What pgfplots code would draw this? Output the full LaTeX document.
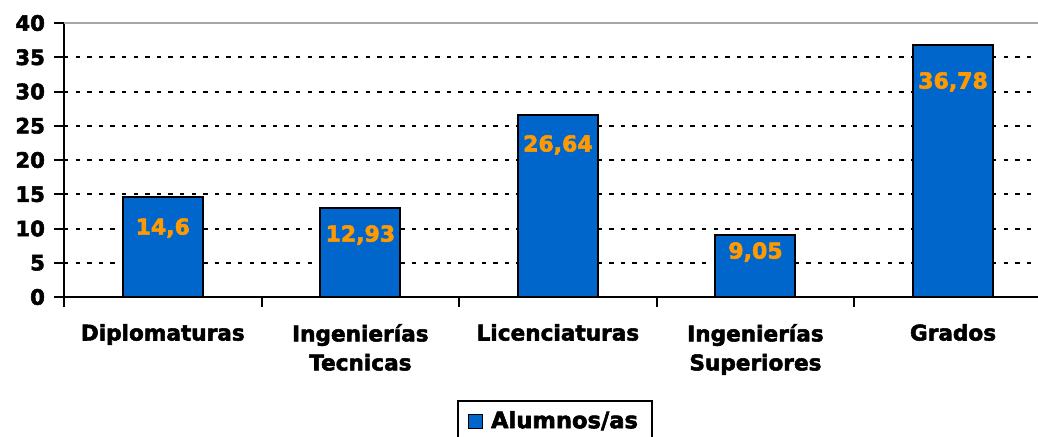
\documentclass[border=0pt]{standalone}
\usepackage{fontspec}
\setmainfont{DejaVu Sans}[BoldFeatures={FakeBold=2.5}]
\usepackage{pgfplots}
\pgfplotsset{compat=1.18}
\definecolor{barblue}{HTML}{0066CC}
\definecolor{lblorange}{HTML}{FF9900}
\begin{document}
\begin{tikzpicture}[font=\fontsize{10.6}{12.5}\selectfont\bfseries]
\begin{axis}[
  scale only axis,
  width=487pt, height=137pt,
  xmin=-0.5, xmax=4.43,
  ymin=0, ymax=40,
  ytick={0,5,...,40},
  axis x line*=bottom, axis y line*=left,
  axis line style={-, black, line width=1pt},
  tick align=outside,
  major tick length=5pt,
  tick style={black, line width=1pt},
  xtick={-0.5,0.5,1.5,2.5,3.5},
  xticklabels={},
  extra x ticks={0,1,2,3,4},
  extra x tick labels={Diplomaturas, {Ingenierías\\Tecnicas}, Licenciaturas, {Ingenierías\\Superiores}, Grados},
  extra x tick style={major tick length=0pt, tick style={draw=none}, grid=none,
    xticklabel style={align=center, anchor=north, yshift=-10pt, font=\fontsize{10.8}{14.5}\selectfont\bfseries}},
  ymajorgrids,
  major grid style={black, line width=1pt, dash pattern=on 2.2pt off 3.6pt},
  /pgf/number format/assume math mode=true,
  yticklabel style={font=\fontsize{10.6}{12.5}\selectfont\bfseries, xshift=-1pt},
  legend style={at={(0.504,-0.376)}, anchor=north, draw=black, line width=1pt,
    font=\fontsize{11.3}{13}\selectfont\bfseries, inner xsep=5pt, inner ysep=3pt, row sep=2pt},
  legend image code/.code={\draw[fill=barblue, draw=black, line width=0.6pt] (0pt,-3.5pt) rectangle (7pt,3.5pt);},
  legend cell align=left,
  clip=false,
]
\draw[gray!70, line width=1pt] (rel axis cs:0,1) -- (rel axis cs:1,1);
\addplot[ybar, bar width=40pt, fill=barblue, draw=black, line width=1pt]
  table[x=x, y=y] {
x y
0 14.6
1 12.93
2 26.64
3 9.05
4 36.78
};
\addlegendentry{\hspace{2pt}Alumnos/as}
\addplot[draw=none, mark=none, forget plot, nodes near coords, point meta=explicit symbolic,
  nodes near coords style={anchor=center, text=lblorange, font=\fontsize{11}{13}\selectfont\bfseries}]
  table[x=x, y=ly, meta=lab] {
x ly lab
0 10.07 14,6
1 9.05 12,93
2 22.2 26,64
3 6.57 9,05
4 31.4 36,78
};
\coordinate (bl) at (rel axis cs:0,0);
\coordinate (tr) at (rel axis cs:1,1);
\end{axis}
\pgfresetboundingbox
\path[use as bounding box] ([shift={(-32pt,-69.5pt)}]bl) rectangle ([shift={(0pt,11.5pt)}]tr);
\end{tikzpicture}
\end{document}
